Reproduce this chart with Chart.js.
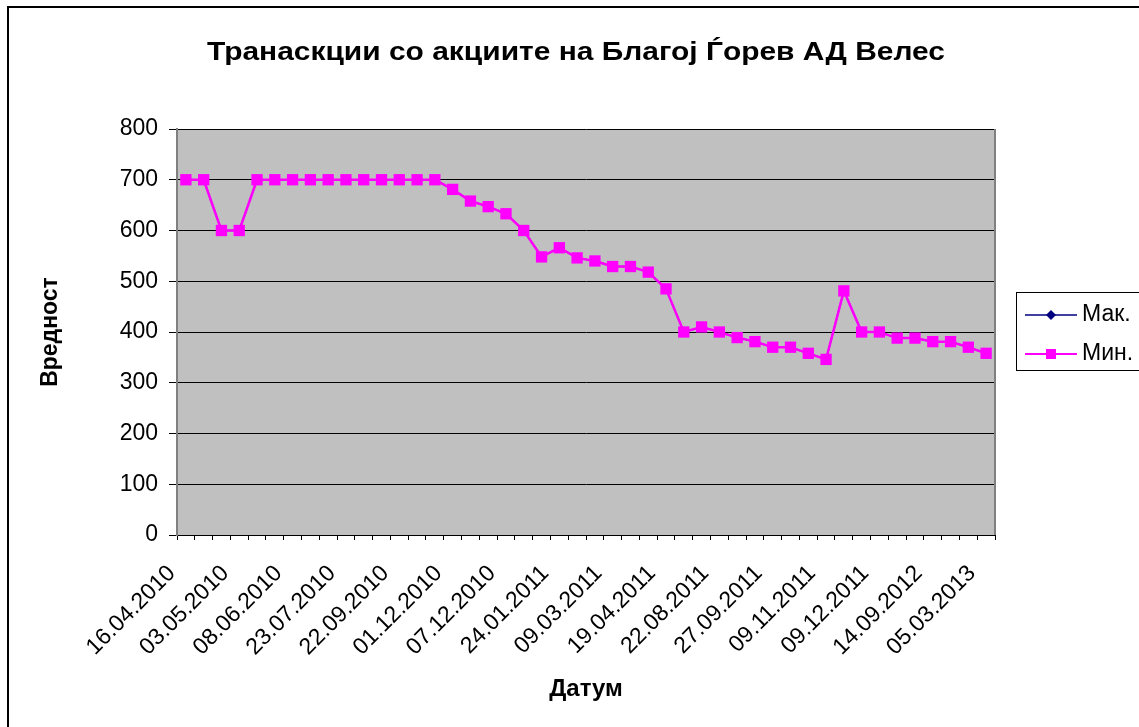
<!DOCTYPE html>
<html><head><meta charset="utf-8">
<script src="https://cdn.jsdelivr.net/npm/chart.js@4/dist/chart.umd.min.js"></script>
<style>html,body{margin:0;padding:0;background:#fff;overflow:hidden}canvas{display:block}</style>
</head><body>
<canvas id="c" width="1139" height="727"></canvas>
<script>
const chartTitle = 'Транаскции со акциите на Благој Ѓорев АД Велес';
const xTitle = 'Датум';
const yTitle = 'Вредност';
const categories = [
  '16.04.2010','','','03.05.2010','','','08.06.2010','','','23.07.2010','','',
  '22.09.2010','','','01.12.2010','','','07.12.2010','','','24.01.2011','','',
  '09.03.2011','','','19.04.2011','','','22.08.2011','','','27.09.2011','','',
  '09.11.2011','','','09.12.2011','','','14.09.2012','','','05.03.2013'
];
const maxValues = [700,700,600,600,700,700,700,700,700,700,700,700,700,700,700,
  681,658,647,633,600,548,566,546,540,529,529,518,485,
  400,410,400,389,381,370,370,358,346,481,400,400,388,388,381,381,370,358];
const minValues = [700,700,600,600,700,700,700,700,700,700,700,700,700,700,700,
  681,658,647,633,600,548,566,546,540,529,529,518,485,
  400,410,400,389,381,370,370,358,346,481,400,400,388,388,381,381,370,358];
const seriesNames = ['Мак.','Мин.'];
const seriesColors = ['#000080','#FF00FF'];
const yMin = 0, yMax = 800, yStep = 100;

const FONT = "'Liberation Sans', Arial, sans-serif";

const frame = {
  id: 'frame',
  beforeDraw(chart) {
    const {ctx, chartArea: a} = chart;
    ctx.save();
    ctx.fillStyle = '#fff';
    ctx.fillRect(0, 0, chart.width, chart.height);
    ctx.strokeStyle = '#000';
    ctx.lineWidth = 2;
    ctx.strokeRect(8, 7, chart.width + 20, chart.height + 20);
    ctx.fillStyle = '#C0C0C0';
    ctx.fillRect(a.left, a.top, a.right - a.left, a.bottom - a.top);
    ctx.restore();
  },
  beforeDatasetsDraw(chart) {
    const {ctx, chartArea: a} = chart;
    ctx.save();
    ctx.strokeStyle = '#808080';
    ctx.lineWidth = 2;
    ctx.beginPath();
    ctx.moveTo(a.left, a.bottom); ctx.lineTo(a.left, a.top);
    ctx.moveTo(a.right, a.top); ctx.lineTo(a.right, a.bottom);
    ctx.stroke();
    ctx.restore();
  },
  afterDraw(chart) {
    const ctx = chart.ctx;
    ctx.save();
    // title
    ctx.fillStyle = '#000';
    ctx.font = 'bold 26px ' + FONT;
    ctx.textAlign = 'center';
    ctx.textBaseline = 'alphabetic';
    const w = ctx.measureText(chartTitle).width;
    ctx.save();
    ctx.translate(576, 60);
    ctx.scale(738 / w, 1);
    ctx.fillText(chartTitle, 0, 0);
    ctx.restore();
    // legend
    ctx.strokeStyle = '#000';
    ctx.lineWidth = 1;
    ctx.strokeRect(1016.5, 292.5, 140, 78);
    const ys = [315, 354];
    seriesNames.forEach((name, i) => {
      const y = ys[i];
      ctx.strokeStyle = seriesColors[i];
      ctx.lineWidth = i === 0 ? 1.5 : 2;
      ctx.beginPath(); ctx.moveTo(1025, y); ctx.lineTo(1077, y); ctx.stroke();
      ctx.fillStyle = seriesColors[i];
      ctx.beginPath();
      if (i === 0) {
        ctx.moveTo(1051, y - 5); ctx.lineTo(1056, y); ctx.lineTo(1051, y + 5); ctx.lineTo(1046, y);
        ctx.closePath();
      } else {
        ctx.rect(1046, y - 5, 10, 10);
      }
      ctx.fill();
      ctx.fillStyle = '#000';
      ctx.font = '23px ' + FONT;
      ctx.textBaseline = 'middle';
      ctx.textAlign = 'left';
      ctx.fillText(name, 1082, y);
    });
    ctx.restore();
  }
};

new Chart(document.getElementById('c'), {
  type: 'line',
  data: {
    labels: categories,
    datasets: [
      {
        label: seriesNames[1], data: minValues,
        borderColor: seriesColors[1], backgroundColor: seriesColors[1],
        borderWidth: 2.5, pointStyle: 'rect', pointRadius: 8,
        pointBackgroundColor: seriesColors[1], pointBorderColor: seriesColors[1], pointBorderWidth: 0,
        tension: 0
      },
      {
        label: seriesNames[0], data: maxValues,
        borderColor: seriesColors[0], backgroundColor: seriesColors[0],
        borderWidth: 1.5, pointStyle: 'rectRot', pointRadius: 4,
        pointBackgroundColor: seriesColors[0], pointBorderColor: seriesColors[0], pointBorderWidth: 0,
        tension: 0
      }
    ]
  },
  options: {
    responsive: false,
    animation: false,
    devicePixelRatio: 1,
    layout: { padding: { top: 129, left: 33, right: 144, bottom: 19 } },
    plugins: {
      legend: { display: false },
      tooltip: { enabled: false },
      title: { display: false }
    },
    scales: {
      x: {
        type: 'category',
        offset: true,
        grid: { offset: true, drawOnChartArea: false, drawTicks: true, tickLength: 5, color: '#000', lineWidth: 1 },
        border: { display: true, color: '#000', width: 1 },
        ticks: {
          autoSkip: false, maxRotation: 45, minRotation: 45, padding: 20, labelOffset: -14,
          color: '#000', font: { family: FONT, size: 23 }
        },
        title: {
          display: true, text: xTitle, color: '#000',
          font: { family: FONT, size: 24, weight: 'bold' }, padding: 4
        },
        afterFit(s) { s.height = 173; }
      },
      y: {
        min: yMin, max: yMax,
        grid: { color: '#000', lineWidth: 1, tickLength: 8, drawTicks: true },
        border: { display: true, color: '#808080', width: 2 },
        ticks: {
          stepSize: yStep, padding: 11, color: '#000',
          font: { family: FONT, size: 23 }
        },
        title: {
          display: true, text: yTitle, color: '#000',
          font: { family: FONT, size: 23, weight: 'bold' }, padding: 4
        },
        afterFit(s) { s.width = 144; }
      }
    }
  },
  plugins: [frame]
});
</script>
</body></html>
